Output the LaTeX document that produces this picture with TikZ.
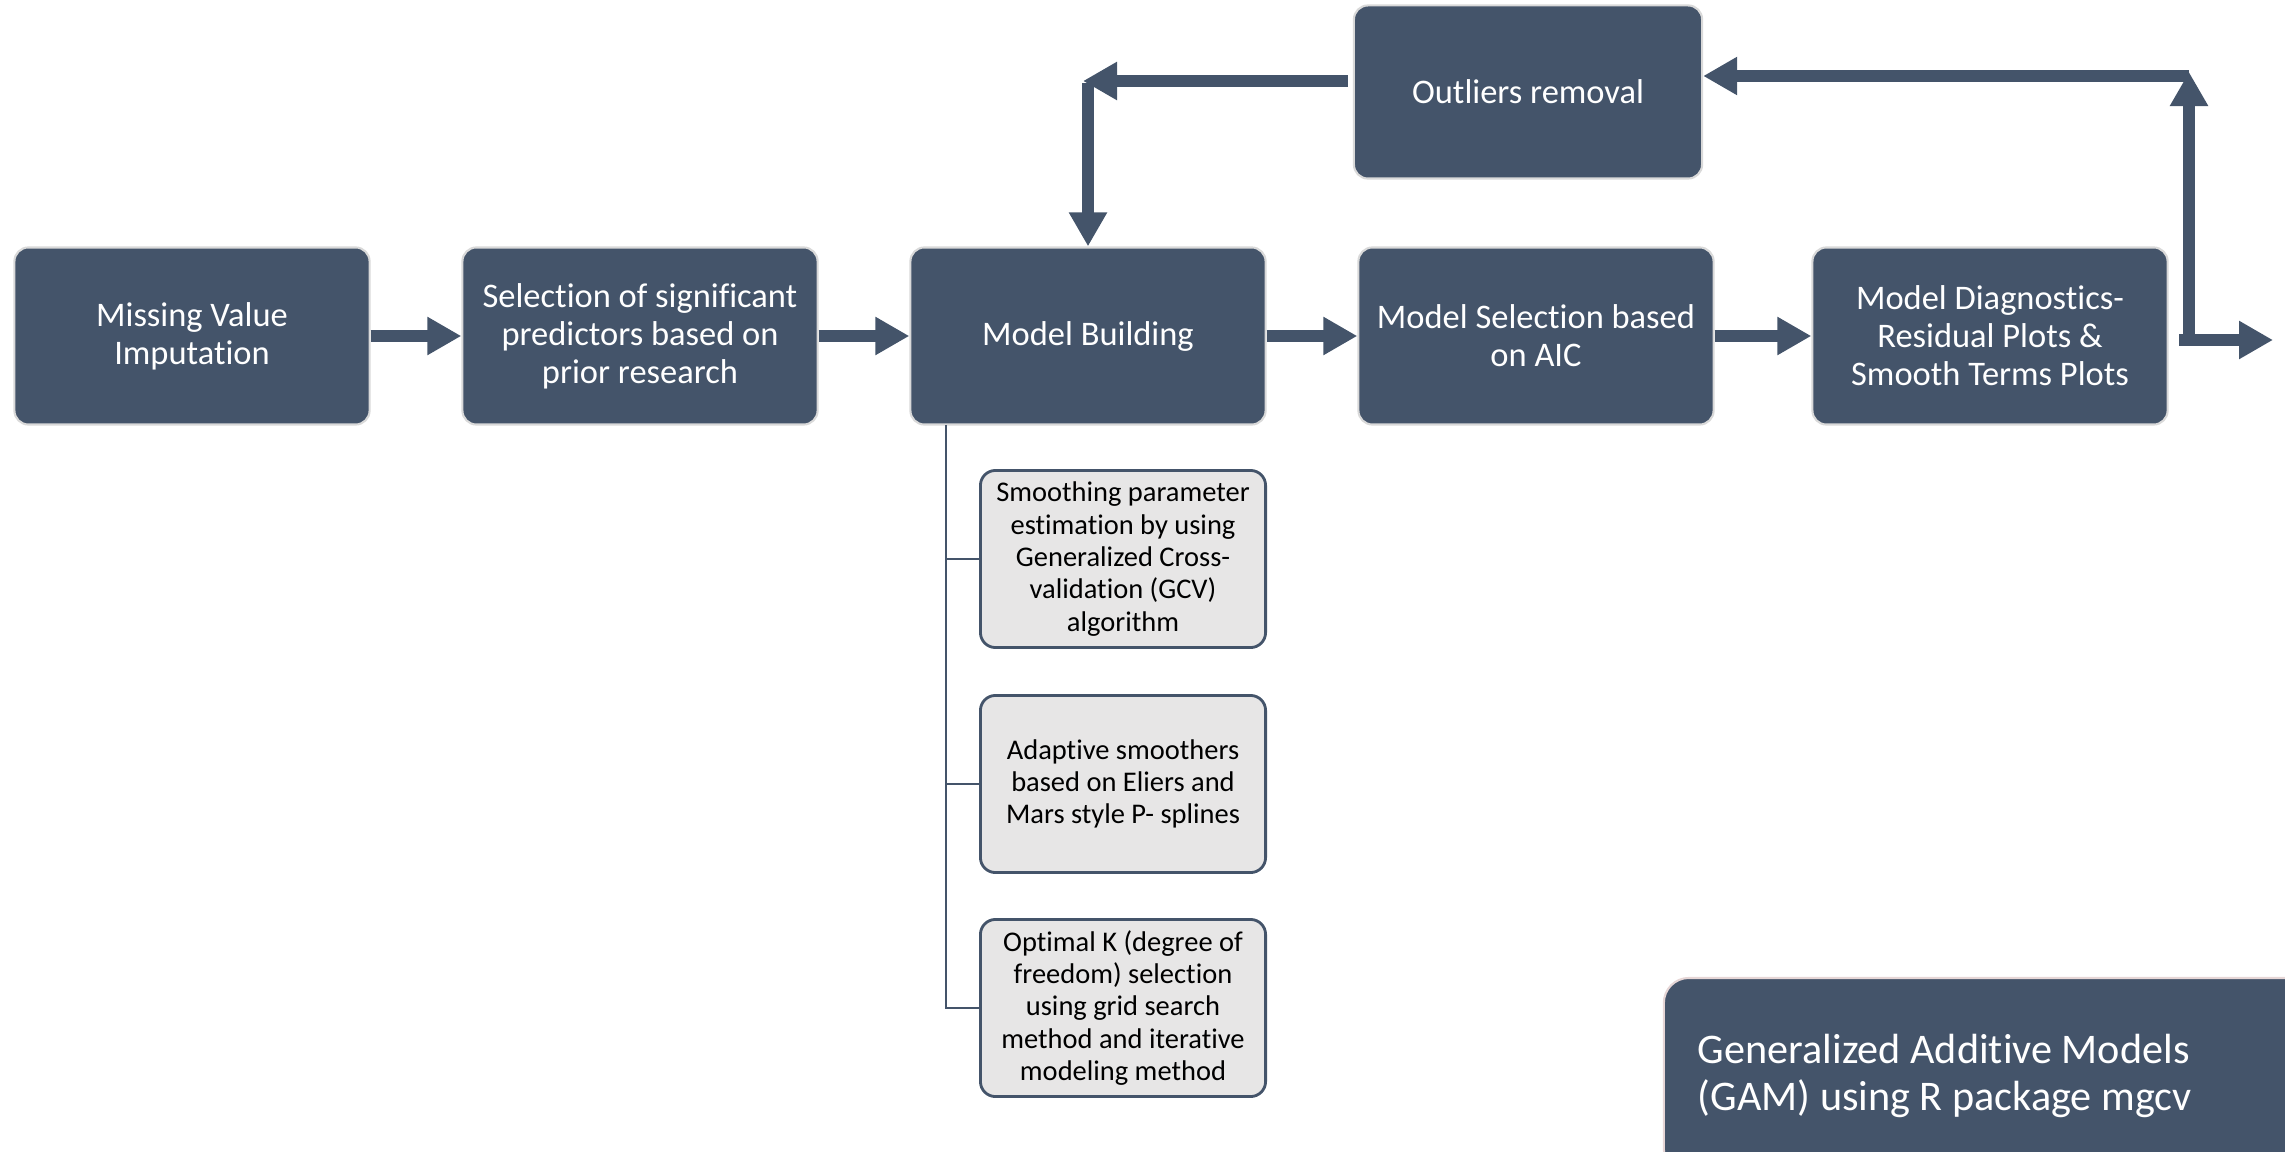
\documentclass[tikz,border=0pt]{standalone}
\usepackage{fontspec}
\setmainfont{Carlito}[RawFeature={-liga;-clig;-dlig;-calt}]
\usetikzlibrary{arrows.meta}
\definecolor{gamSlate}{HTML}{44546A}
\definecolor{gamPale}{HTML}{E7E6E6}
\definecolor{gamEdge}{HTML}{D9D9D9}
\definecolor{gamRose}{HTML}{E6D6D6}
\tikzset{
  gam box/.style={rectangle, rounded corners=0.14cm, draw=gamEdge, line width=0.6pt, fill=gamSlate, text=white, align=center, minimum width=3.55cm, minimum height=1.77cm, inner sep=0pt, font=\fontsize{9.8}{10.8}\selectfont},
  gam sub/.style={rectangle, rounded corners=0.15cm, draw=gamSlate, line width=0.8pt, fill=gamPale, text=black, align=center, minimum width=2.85cm, minimum height=1.77cm, inner sep=0pt, font=\fontsize{8.1}{9.2}\selectfont},
  gam flow/.style={draw=gamSlate, line width=0.12cm, -{Triangle[length=0.34cm,width=0.36cm]}},
  gam link/.style={draw=gamSlate, line width=0.8pt},
  gam note/.style={rectangle, rounded corners=0.25cm, draw=gamRose, line width=0.6pt, fill=gamSlate, text=white, align=flush left, minimum width=6.56cm, minimum height=1.96cm, text width=5.88cm, inner xsep=0.34cm, font=\fontsize{12}{13.3}\selectfont},
}

\begin{document}
\begin{tikzpicture}[x=0.01cm,y=-0.01cm]
  \useasboundingbox (0,0) rectangle (2285,1152);
  \clip (0,0) rectangle (2285,1152);
  \foreach \n/\x/\t in {miss/192/{Missing Value\\Imputation},
    pred/640/{Selection of significant\\predictors based on\\prior research},
    build/1088/{Model Building},
    aic/1536/{Model Selection based\\on AIC},
    diag/1990/{Model Diagnostics-\\Residual Plots \&\\Smooth Terms Plots}}
    {\node[gam box] (\n) at (\x,336) {\t};}
  \foreach \a/\b in {miss/pred,pred/build,build/aic,aic/diag}{\draw[gam flow] (\a) -- (\b);}
  \node[gam box, minimum width=3.48cm, minimum height=1.73cm] (outl) at (1528,92) {Outliers removal};
  \coordinate (outS) at (2179,340);
  \coordinate (outE) at (2273,340);
  \coordinate (upB) at (2189,346);
  \coordinate (upT) at (2189,72);
  \coordinate (topR) at (2189,76);
  \coordinate (cornerL) at (1088,81);
  \draw[gam flow] (outS) -- (outE);
  \draw[gam flow] (upB) -- (upT);
  \draw[gam flow] (topR) -- (outl.east |- topR);
  \draw[gam flow] ([xshift=-0.05cm]outl.west |- cornerL) -- ([xshift=-0.05cm]cornerL);
  \draw[gam flow] ([yshift=-0.02cm]cornerL) -- (build.north);
  \node[gam sub] (gcv) at (1123,559) {Smoothing parameter\\estimation by using\\Generalized Cross-\\validation (GCV)\\algorithm};
  \node[gam sub] (pspl) at (1123,784) {Adaptive smoothers\\based on Eliers and\\Mars style P- splines};
  \node[gam sub] (kopt) at (1123,1008) {Optimal K (degree of\\freedom) selection\\using grid search\\method and iterative\\modeling method};
  \coordinate (trunk) at (946,425);
  \foreach \s in {gcv,pspl}{\draw[gam link] (trunk |- \s.west) -- (\s.west);}
  \draw[gam link] (trunk) |- (kopt.west);
  \node[gam note] (gam) at (1992,1076) {Generalized Additive Models\\(GAM) using R package mgcv};
\end{tikzpicture}
\end{document}
